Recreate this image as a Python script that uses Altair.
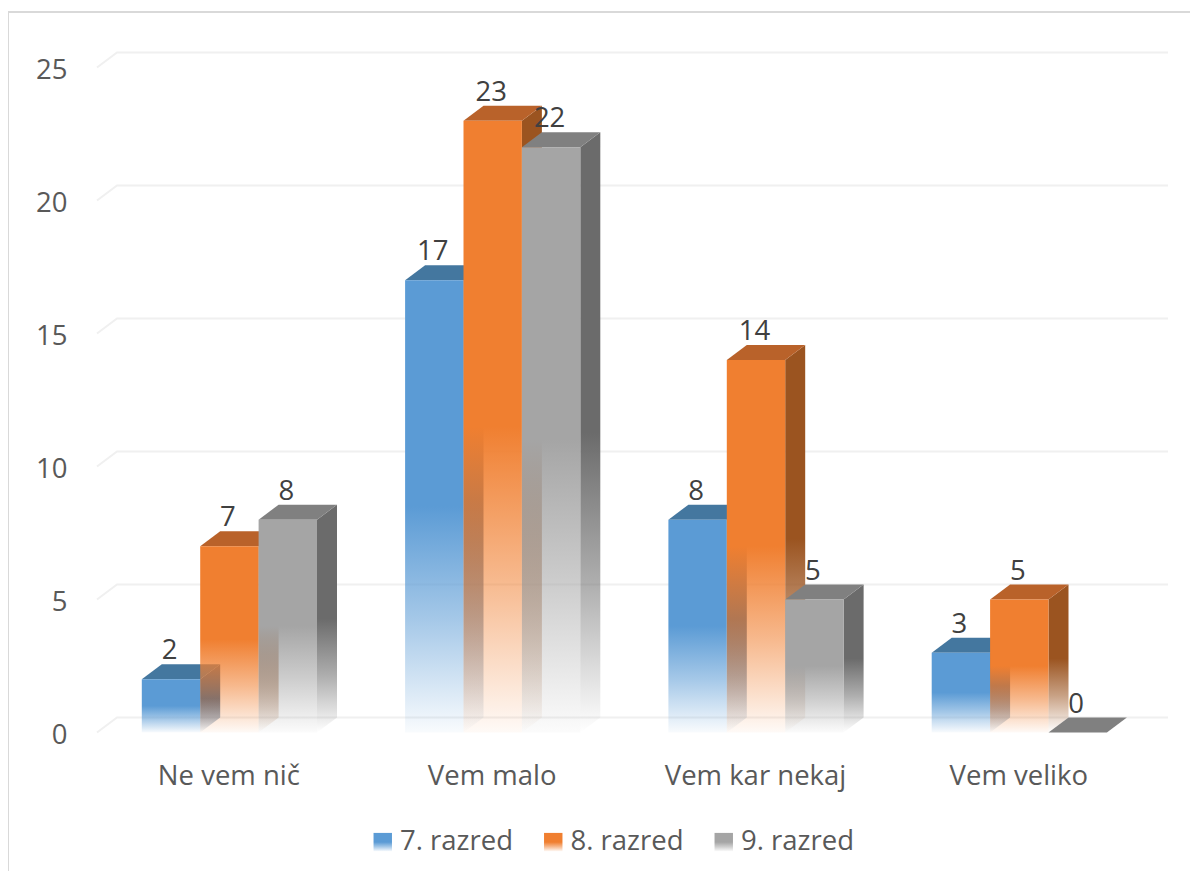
import altair as alt
import pandas as pd

categories = ["Ne vem nič", "Vem malo", "Vem kar nekaj", "Vem veliko"]
series = ["7. razred", "8. razred", "9. razred"]
values_7 = [2, 17, 8, 3]
values_8 = [7, 23, 14, 5]
values_9 = [8, 22, 5, 0]
y_ticks = [0, 5, 10, 15, 20, 25]

FONT = "Open Sans"
FS = 27.5
PAGE_RIGHT, PAGE_BOTTOM = 1190, 871
W, H = PAGE_RIGHT - 8, PAGE_BOTTOM - 12
PX_X, PX_Y = 263.3, 26.6            # pixels per category / per value unit
BAR = 58.4 / PX_X
DX, DY = 20 / PX_X, 15 / PX_Y       # 3D depth
x_dom = [(8 - 229.4) / PX_X, (PAGE_RIGHT - 229.4) / PX_X]
y_dom = [(732.5 - PAGE_BOTTOM) / PX_Y, (732.5 - 12) / PX_Y]
xs = alt.Scale(domain=x_dom, nice=False, zero=False)
ys = alt.Scale(domain=y_dom, nice=False, zero=False)


def alpha_stops(r, g, b, end=0.04):
    return [(0, f"rgba({r},{g},{b},1)"), (0.5, f"rgba({r},{g},{b},1)"),
            (0.75, f"rgba({r},{g},{b},0.55)"), (1, f"rgba({r},{g},{b},{end})")]


def grad_expr(r, g, b):
    st = ",".join(f"{{offset:{o},color:'{c}'}}" for o, c in alpha_stops(r, g, b))
    return {"expr": f"{{gradient:'linear',x1:0,y1:0,x2:0,y2:1,stops:[{st}]}}"}


def grad_mark(r, g, b):
    return alt.Gradient(gradient="linear", x1=0, y1=0, x2=0, y2=1,
                        stops=[alt.GradientStop(offset=o, color=c) for o, c in alpha_stops(r, g, b, 0)])


front_rgb = [(91, 155, 213), (240, 127, 48), (165, 165, 165)]
side_rgb = [(61, 104, 146), (155, 84, 32), (107, 107, 107)]
top_hex = ["#44779f", "#b9622a", "#808080"]

color_scale = alt.Scale(domain=series, range=[grad_expr(*c) for c in front_rgb])
legend = alt.Legend(orient="none", legendX=361, legendY=816, direction="horizontal", columns=3,
                    title=None, symbolType="square", symbolSize=340, symbolStrokeWidth=0,
                    labelFont=FONT, labelFontSize=FS, labelColor="#595959", labelOffset=3.5,
                    columnPadding=25.5, labelLimit=300, padding=0)

rows = []
for s, vals in zip(series, [values_7, values_8, values_9]):
    si = series.index(s)
    for ci, (c, v) in enumerate(zip(categories, vals)):
        left = ci + (si - 1.5) * BAR
        rows.append(dict(series=s, cat=c, value=v, base=0, left=left, right=left + BAR,
                         mid=left + BAR / 2, id=f"{si}-{ci}"))
bars = pd.DataFrame(rows)

side_rows, top_rows = [], []
for r in rows:
    side_rows += [
        dict(series=r["series"], id=r["id"], px=r["right"], hi=r["value"], lo=0),
        dict(series=r["series"], id=r["id"], px=r["right"] + DX, hi=r["value"] + DY, lo=DY),
    ]
    top_rows += [
        dict(series=r["series"], id=r["id"], px=r["left"], hi=r["value"], lo=r["value"]),
        dict(series=r["series"], id=r["id"], px=r["left"] + DX, hi=r["value"] + DY, lo=r["value"]),
        dict(series=r["series"], id=r["id"], px=r["right"], hi=r["value"] + DY, lo=r["value"]),
        dict(series=r["series"], id=r["id"], px=r["right"] + DX, hi=r["value"] + DY, lo=r["value"] + DY),
    ]
side = pd.DataFrame(side_rows)
top = pd.DataFrame(top_rows)

grid_left = (97 - 229.4) / PX_X
grid_right = (1168 - 229.4) / PX_X
grid = pd.DataFrame([
    p for t in y_ticks for p in (
        dict(t=t, px=grid_left, hi=t),
        dict(t=t, px=grid_left + DX, hi=t + DY),
        dict(t=t, px=grid_right, hi=t + DY),
    )
])

label_expr = "[" + ",".join(f"'{c}'" for c in categories) + "][datum.value]"
x_axis = alt.Axis(values=[0, 1, 2, 3], labelExpr=label_expr, orient="bottom", offset=-(PAGE_BOTTOM - 776), title=None,
                  domain=False, ticks=False, grid=False, labelPadding=0, labelBaseline="middle",
                  labelFont=FONT, labelFontSize=FS, labelColor="#595959", labelOverlap=False,
                  labelFlush=False, labelLimit=400, labelOffset=-1)
y_axis = alt.Axis(values=y_ticks, orient="left", offset=-59, title=None, domain=False, ticks=False,
                  grid=False, labelPadding=0, labelFont=FONT, labelFontSize=FS, labelColor="#595959",
                  labelOffset=3)


def X(f):
    return alt.X(f, scale=xs, axis=x_axis)


def Y(f):
    return alt.Y(f, scale=ys, axis=y_axis)


layers = [
    alt.Chart(grid).mark_line(color="#f0f0f0", strokeWidth=2).encode(
        x=X("px:Q"), y=Y("hi:Q"), detail="t:N"),
    alt.Chart(grid.head(1)).mark_rule(color="#d9d9d9", strokeWidth=2).encode(
        x=alt.value(0), y=alt.value(0), y2=alt.value(H)),
    alt.Chart(grid.head(1)).mark_rule(color="#d9d9d9", strokeWidth=2).encode(
        y=alt.value(0), x=alt.value(0), x2=alt.value(W)),
]

for i, s in enumerate(series):
    layers.append(
        alt.Chart(side[side.series == s]).mark_area(fill=grad_mark(*side_rgb[i]), orient="vertical").encode(
            x=X("px:Q"), y=Y("hi:Q"), y2="lo:Q", detail="id:N")
    )
    layers.append(
        alt.Chart(top[top.series == s]).mark_area(fill=top_hex[i], orient="vertical").encode(
            x=X("px:Q"), y=Y("hi:Q"), y2="lo:Q", detail="id:N")
    )
    layers.append(
        alt.Chart(bars[bars.series == s]).mark_bar().encode(
            x=X("left:Q"), x2="right:Q", y=Y("value:Q"), y2="base:Q",
            color=alt.Color("series:N", scale=color_scale, legend=legend))
    )

layers.append(
    alt.Chart(bars).mark_text(dx=-1.5, dy=-28, font=FONT, fontSize=FS, color="#404040", baseline="middle").encode(
        x=X("mid:Q"), y=Y("value:Q"), text="value:Q")
)

chart = alt.layer(*layers).properties(
    width=W, height=H, padding={"left": 0, "top": 4, "right": 0, "bottom": 0},
    autosize=alt.AutoSizeParams(type="none"), background="white",
).configure_view(stroke=None)

chart.save("out.html", embed_options={"renderer": "svg", "actions": False})
